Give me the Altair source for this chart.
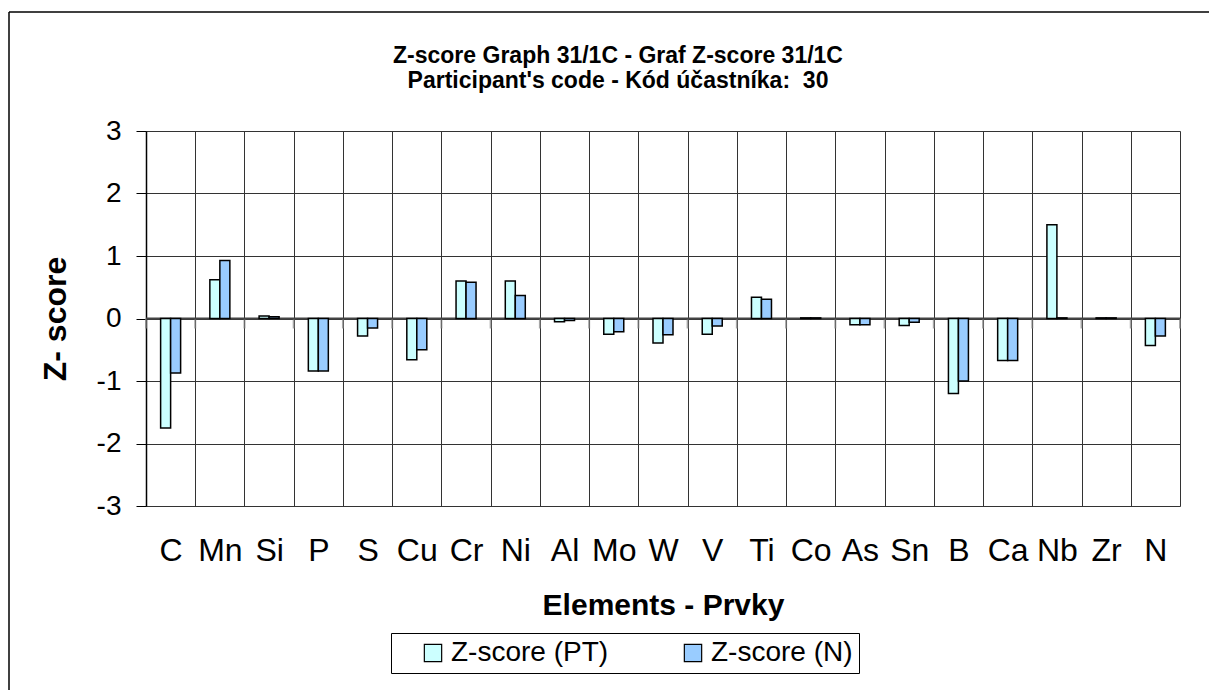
import altair as alt
import pandas as pd

elements = ["C", "Mn", "Si", "P", "S", "Cu", "Cr", "Ni", "Al", "Mo", "W",
            "V", "Ti", "Co", "As", "Sn", "B", "Ca", "Nb", "Zr", "N"]
pt_scores = [-1.75, 0.62, 0.04, -0.84, -0.28, -0.66, 0.60, 0.60, -0.05, -0.25, -0.39,
             -0.25, 0.34, 0.01, -0.10, -0.11, -1.20, -0.67, 1.50, 0.01, -0.43]
n_scores = [-0.87, 0.93, 0.03, -0.84, -0.15, -0.50, 0.58, 0.37, -0.03, -0.21, -0.26,
            -0.12, 0.31, 0.01, -0.10, -0.06, -1.00, -0.67, 0.01, 0.01, -0.28]
series = ["Z-score (PT)", "Z-score (N)"]
colors = ["#CCFFFF", "#99CCFF"]
y_ticks = [-3, -2, -1, 0, 1, 2, 3]
title_lines = ["Z-score Graph 31/1C - Graf Z-score 31/1C",
               "Participant's code - Kód účastníka:\u00a0 30"]

rows = []
for i, e in enumerate(elements):
    rows.append({"Element": e, "Series": series[0], "Z": pt_scores[i]})
    rows.append({"Element": e, "Series": series[1], "Z": n_scores[i]})
df = pd.DataFrame(rows)
df_el = pd.DataFrame({"Element": elements})
df_last = pd.DataFrame({"Element": elements[-1:]})

W, H = 1034, 375
FONT = "Liberation Sans"
BAND = W / len(elements)

x_axis = alt.Axis(title="Elements - Prvky", labelAngle=0, tickBand="extent",
                  grid=True, gridColor="#333333", gridWidth=1, ticks=False,
                  domain=False, labelFontSize=32, labelPadding=29,
                  titleFontSize=30, titlePadding=24)
x_scale = alt.Scale(paddingInner=0, paddingOuter=0)

y_enc = alt.Y(
    "Z:Q",
    scale=alt.Scale(domain=[-3, 3], nice=False, zero=False),
    axis=alt.Axis(title="Z- score", values=y_ticks, labelExpr="'' + datum.value",
                  grid=True, gridColor="#333333",
                  gridWidth=1, domainColor="black", domainWidth=1.5,
                  tickColor="black", tickSize=10, labelFontSize=28,
                  labelPadding=15, titleFontSize=32, titlePadding=24),
)

bars = alt.Chart(df).mark_bar(stroke="black", strokeWidth=1.5).encode(
    x=alt.X("Element:N", sort=elements, scale=x_scale, axis=x_axis),
    xOffset=alt.XOffset("Series:N", sort=series,
                        scale=alt.Scale(paddingInner=0, paddingOuter=0,
                                        range=[BAND / 2 - 10, BAND / 2 + 10])),
    y=y_enc,
    color=alt.Color(
        "Series:N", sort=series,
        scale=alt.Scale(domain=series, range=colors),
        legend=alt.Legend(
            title=" ", titleOrient="left", titleFontSize=10, titlePadding=22,
            orient="none", legendX=245, legendY=502,
            direction="horizontal", symbolType="square", symbolSize=300,
            symbolStrokeColor="black", symbolStrokeWidth=1.2,
            labelFontSize=28, labelFont=FONT, labelColor="black", labelOffset=4,
            columnPadding=70, padding=6, strokeColor="black",
            fillColor="white", labelLimit=400,
        ),
    ),
)

tick_style = dict(orient="vertical", size=10, color="#808080", thickness=2, yOffset=5)
zero_ticks = alt.Chart(df_el).mark_tick(**tick_style).encode(
    x=alt.X("Element:N", sort=elements, scale=x_scale, axis=x_axis, bandPosition=0),
    y=alt.datum(0),
)
zero_tick_end = alt.Chart(df_last).mark_tick(**tick_style).encode(
    x=alt.X("Element:N", sort=elements, scale=x_scale, axis=x_axis, bandPosition=1),
    y=alt.datum(0),
)

zero_rule = alt.Chart(pd.DataFrame({"v": [0]})).mark_rule(
    color="#444444", strokeWidth=2
).encode(y=alt.datum(0))

# outer chart-area frame (only its top and left edges fall inside the picture)
frame_top = alt.Chart(pd.DataFrame({"v": [0]})).mark_rule(
    color="black", strokeWidth=1.5
).encode(x=alt.value(-137), x2=alt.value(1300), y=alt.value(-119))
frame_left = alt.Chart(pd.DataFrame({"v": [0]})).mark_rule(
    color="black", strokeWidth=1.5
).encode(x=alt.value(-137), y=alt.value(-119), y2=alt.value(800))

chart = alt.layer(frame_top, frame_left, zero_ticks, zero_tick_end, zero_rule, bars).properties(
    width=W, height=H,
    title=alt.Title(title_lines, fontSize=23, fontWeight="bold", font=FONT,
                    anchor="middle", dx=-45, offset=0, dy=82, lineHeight=25,
                    color="black"),
    autosize=alt.AutoSizeParams(type="none"),
    padding={"left": 138, "top": 123, "right": 29, "bottom": 184},
).configure_view(
    stroke="#808080", strokeWidth=2
).configure_axis(
    labelFont=FONT, titleFont=FONT, labelColor="black", titleColor="black",
    titleFontWeight="bold",
).configure(background="white")

chart.save("out.html", embed_options={"renderer": "svg", "actions": False})
